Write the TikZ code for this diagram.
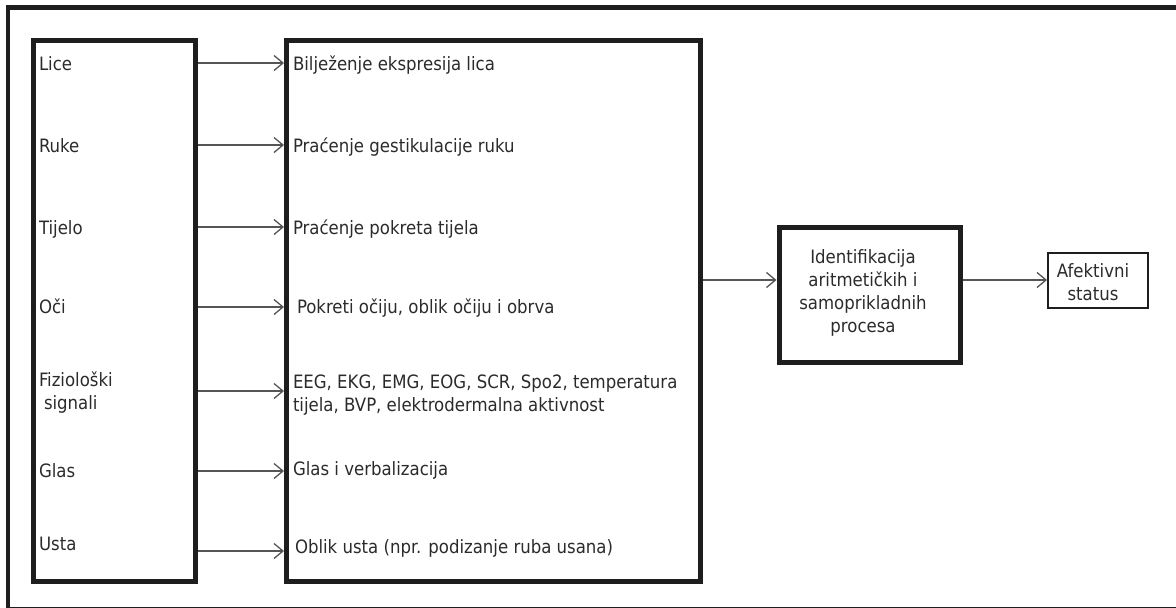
\documentclass[tikz,border=0pt]{standalone}
\usepackage{fontspec}
\setmainfont{DejaVu Sans Condensed}
\usetikzlibrary{arrows.meta}
\definecolor{txtc}{HTML}{2B2B2B}
\definecolor{linec}{HTML}{1E1E1E}
\definecolor{arrc}{HTML}{555555}
\begin{document}
\begin{tikzpicture}[x=1pt,y=-1pt,
  lbl/.style={font=\fontsize{18.4}{23}\selectfont, text=txtc, inner sep=0pt, outer sep=0pt, anchor=base west, align=left},
  ctr/.style={font=\fontsize{18.4}{23}\selectfont, text=txtc, inner sep=0pt, outer sep=0pt, anchor=base, align=center},
  bigbox/.style={draw=linec, line width=5pt, minimum width=#1, anchor=north west, inner sep=0pt},
  arr/.style={draw=arrc, line width=1.3pt, -{Straight Barb[length=9pt,width=15pt,line width=1.3pt]}}
]
\useasboundingbox (0,0) rectangle (1176,608);
\clip (0,0) rectangle (1176,608);
% outer frame
\draw[line width=4.5pt, linec] (8,7.5) rectangle (1190,609);
% left and middle boxes
\node[bigbox=162pt, minimum height=541pt] (L) at (31,38) {};
\node[bigbox=414pt, minimum height=541pt] (M) at (284,38) {};
% identification box
\node[draw=linec, line width=5pt, minimum width=181pt, minimum height=135pt, inner sep=0pt] (I) at (869.5,294.5) {};
\node[ctr] (It) at (863,332) {Identifikacija\\aritmetičkih i\\samoprikladnih\\procesa};
% afektivni box
\node[draw=linec, line width=2pt, minimum width=100pt, minimum height=55pt, inner sep=0pt] (A) at (1098,280.5) {};
\node[ctr] (At) at (1093,300) {Afektivni\\status};
% left labels
\node[lbl] (l1) at (39,70) {Lice};
\node[lbl] (l2) at (39,152) {Ruke};
\node[lbl] (l3) at (39,234) {Tijelo};
\node[lbl] (l4) at (39,313) {Oči};
\node[lbl] (l5) at (39,409) {Fiziološki\\\hspace*{5pt}signali};
\node[lbl] (l6) at (39,477) {Glas};
\node[lbl] (l7) at (39,550) {Usta};
% middle labels
\node[lbl] (m1) at (293,70) {Bilježenje ekspresija lica};
\node[lbl] (m2) at (293,152) {Praćenje gestikulacije ruku};
\node[lbl] (m3) at (293,234) {Praćenje pokreta tijela};
\node[lbl] (m4) at (297,313) {Pokreti očiju, oblik očiju i obrva};
\node[lbl] (m5) at (293,411) {EEG, EKG, EMG, EOG, SCR, Spo2, temperatura\\tijela, BVP, elektrodermalna aktivnost};
\node[lbl] (m6) at (293,475) {Glas i verbalizacija};
\node[lbl] (m7) at (295,553) {Oblik usta (npr. podizanje ruba usana)};
% arrow heights
\coordinate (a1) at (0,63);
\coordinate (a2) at (0,145);
\coordinate (a3) at (0,227);
\coordinate (a4) at (0,307);
\coordinate (a5) at (0,391);
\coordinate (a6) at (0,471);
\coordinate (a7) at (0,551);
\coordinate (a8) at (0,280);
\foreach \k in {1,...,7}{
  \draw[arr] (L.east |- a\k) -- (M.west |- a\k);
}
\draw[arr] (M.east |- a8) -- (I.west |- a8);
\draw[arr] (I.east |- a8) -- (A.west |- a8);
\end{tikzpicture}
\end{document}
